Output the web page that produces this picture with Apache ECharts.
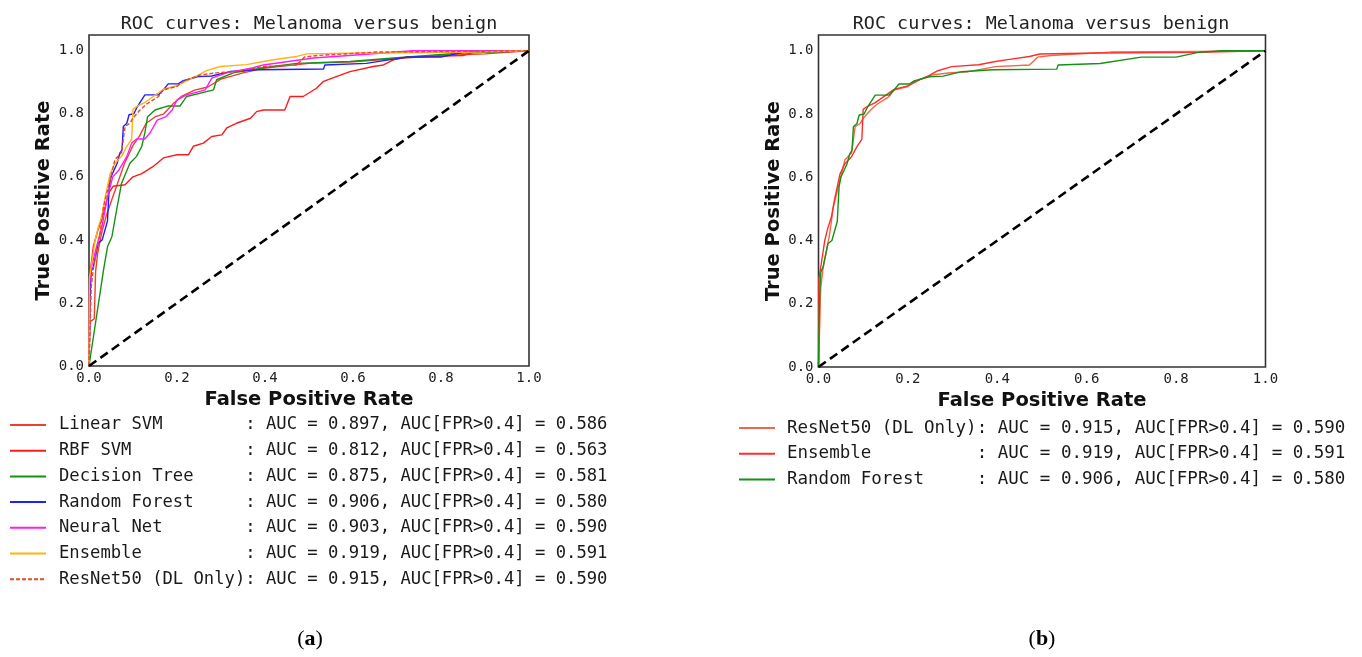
<!DOCTYPE html>
<html>
<head>
<meta charset="utf-8">
<script src="https://cdn.jsdelivr.net/npm/echarts@6/dist/echarts.min.js"></script>
<style>
  html, body { margin: 0; padding: 0; background: #fff; }
  #main { width: 1362px; height: 657px; }
</style>
</head>
<body>
<div id="main"></div>
<script>
// ROC curves: Melanoma versus benign, (a) all models, (b) DL vs ensemble

const diagFpr = [0, 1];
const diagTpr = [0, 1];

// curve points (FPR, TPR)
const linearSvmFpr = [0, 0.002, 0.012, 0.015, 0.02, 0.03, 0.04, 0.05, 0.06, 0.07, 0.08, 0.09, 0.1, 0.115, 0.13, 0.15, 0.17, 0.19, 0.21, 0.24, 0.27, 0.3, 0.35, 0.4, 0.5, 0.6, 0.7, 0.8, 0.9, 1];
const linearSvmTpr = [0, 0.14, 0.15, 0.3, 0.36, 0.43, 0.48, 0.52, 0.56, 0.6, 0.64, 0.67, 0.7, 0.73, 0.77, 0.79, 0.8, 0.83, 0.855, 0.875, 0.885, 0.91, 0.93, 0.945, 0.96, 0.965, 0.975, 0.985, 0.99, 1];

const rbfSvmFpr = [0, 0.003, 0.01, 0.02, 0.03, 0.045, 0.055, 0.082, 0.1, 0.12, 0.146, 0.169, 0.2, 0.226, 0.237, 0.26, 0.279, 0.302, 0.313, 0.335, 0.367, 0.381, 0.396, 0.445, 0.457, 0.487, 0.517, 0.533, 0.562, 0.593, 0.646, 0.669, 0.692, 0.722, 0.85, 0.873, 1];
const rbfSvmTpr = [0, 0.3, 0.38, 0.43, 0.47, 0.55, 0.57, 0.575, 0.6, 0.61, 0.633, 0.66, 0.67, 0.67, 0.697, 0.707, 0.728, 0.733, 0.755, 0.77, 0.786, 0.807, 0.812, 0.812, 0.855, 0.855, 0.881, 0.903, 0.918, 0.934, 0.95, 0.955, 0.971, 0.98, 0.985, 0.995, 1];

const treeFpr = [0, 0.033, 0.042, 0.052, 0.064, 0.074, 0.093, 0.108, 0.12, 0.127, 0.133, 0.15, 0.18, 0.207, 0.222, 0.283, 0.29, 0.328, 0.396, 0.472, 0.593, 0.7, 0.85, 1];
const treeTpr = [0, 0.304, 0.378, 0.41, 0.505, 0.58, 0.643, 0.665, 0.697, 0.74, 0.79, 0.812, 0.825, 0.825, 0.855, 0.876, 0.908, 0.93, 0.946, 0.96, 0.966, 0.978, 0.993, 1];

const forestFpr = [0, 0.002, 0.005, 0.01, 0.021, 0.03, 0.042, 0.046, 0.05, 0.064, 0.07, 0.075, 0.078, 0.086, 0.091, 0.102, 0.11, 0.127, 0.158, 0.169, 0.18, 0.203, 0.214, 0.248, 0.279, 0.32, 0.389, 0.533, 0.536, 0.63, 0.722, 0.8, 0.85, 0.9, 1];
const forestTpr = [0, 0.2, 0.3, 0.315, 0.39, 0.4, 0.46, 0.57, 0.6, 0.643, 0.675, 0.685, 0.76, 0.77, 0.797, 0.8, 0.823, 0.86, 0.86, 0.876, 0.895, 0.895, 0.905, 0.918, 0.92, 0.934, 0.94, 0.942, 0.955, 0.96, 0.98, 0.98, 0.995, 1, 1];

const neuralFpr = [0, 0.001, 0.006, 0.017, 0.029, 0.042, 0.054, 0.067, 0.086, 0.097, 0.108, 0.127, 0.139, 0.155, 0.174, 0.189, 0.2, 0.222, 0.264, 0.279, 0.313, 0.373, 0.396, 0.51, 0.623, 0.735, 1];
const neuralTpr = [0, 0.26, 0.315, 0.378, 0.44, 0.535, 0.6, 0.62, 0.665, 0.707, 0.72, 0.72, 0.74, 0.78, 0.79, 0.812, 0.844, 0.86, 0.876, 0.913, 0.93, 0.946, 0.955, 0.977, 0.988, 1, 1];

const ensembleFpr = [0, 0.001, 0.006, 0.014, 0.021, 0.029, 0.036, 0.048, 0.059, 0.074, 0.086, 0.097, 0.1, 0.108, 0.127, 0.146, 0.169, 0.2, 0.226, 0.245, 0.267, 0.298, 0.358, 0.396, 0.427, 0.472, 0.495, 0.623, 0.85, 1];
const ensembleTpr = [0, 0.28, 0.325, 0.4, 0.44, 0.475, 0.53, 0.61, 0.643, 0.665, 0.697, 0.72, 0.815, 0.823, 0.836, 0.855, 0.878, 0.889, 0.908, 0.92, 0.937, 0.95, 0.956, 0.966, 0.973, 0.982, 0.99, 0.993, 0.995, 1];

const resnetFpr = [0, 0.003, 0.005, 0.01, 0.025, 0.033, 0.048, 0.059, 0.074, 0.082, 0.093, 0.1, 0.116, 0.131, 0.158, 0.169, 0.2, 0.214, 0.252, 0.29, 0.335, 0.396, 0.472, 0.49, 0.52, 0.654, 0.85, 1];
const resnetTpr = [0, 0.145, 0.25, 0.31, 0.42, 0.505, 0.59, 0.655, 0.677, 0.76, 0.77, 0.787, 0.812, 0.831, 0.855, 0.876, 0.887, 0.903, 0.923, 0.93, 0.934, 0.95, 0.955, 0.98, 0.985, 0.996, 0.998, 1];

// legend text
const leftNames = ['Linear SVM', 'RBF SVM', 'Decision Tree', 'Random Forest', 'Neural Net', 'Ensemble', 'ResNet50 (DL Only)'];
const leftAuc = ['0.897', '0.812', '0.875', '0.906', '0.903', '0.919', '0.915'];
const leftAucFpr = ['0.586', '0.563', '0.581', '0.580', '0.590', '0.591', '0.590'];
const rightNames = ['ResNet50 (DL Only)', 'Ensemble', 'Random Forest'];
const rightAuc = ['0.915', '0.919', '0.906'];
const rightAucFpr = ['0.590', '0.591', '0.580'];

const zip = (xs, ys) => xs.map((x, i) => [x, ys[i]]);

const leftCurves = [
  { fpr: linearSvmFpr, tpr: linearSvmTpr, color: '#ee3f28', dash: 'solid' },
  { fpr: rbfSvmFpr, tpr: rbfSvmTpr, color: '#ff1a1a', dash: 'solid' },
  { fpr: treeFpr, tpr: treeTpr, color: '#159215', dash: 'solid' },
  { fpr: forestFpr, tpr: forestTpr, color: '#1f1fff', dash: 'solid' },
  { fpr: neuralFpr, tpr: neuralTpr, color: '#ff1aff', dash: 'solid' },
  { fpr: ensembleFpr, tpr: ensembleTpr, color: '#ffb312', dash: 'solid' },
  { fpr: resnetFpr, tpr: resnetTpr, color: '#e84a2a', dash: [4, 2] }
];
const rightCurves = [
  { fpr: resnetFpr, tpr: resnetTpr, color: '#f2674a' },
  { fpr: ensembleFpr, tpr: ensembleTpr, color: '#ff2e2e' },
  { fpr: forestFpr, tpr: forestTpr, color: '#159215' }
];

function label(name, auc, aucFpr) {
  return name.padEnd(18, ' ') + ': AUC = ' + auc + ', AUC[FPR>0.4] = ' + aucFpr;
}

const labelMap = {};
leftNames.forEach((n, i) => { labelMap['a' + i] = label(n, leftAuc[i], leftAucFpr[i]); });
rightNames.forEach((n, i) => { labelMap['b' + i] = label(n, rightAuc[i], rightAucFpr[i]); });

const mono = 'DejaVu Sans Mono';
const grids = [
  { left: 89, top: 35, width: 440, height: 331 },
  { left: 818.5, top: 35, width: 447, height: 332 }
];

function makeAxes(idx) {
  const x = {
    gridIndex: idx, type: 'value', min: 0, max: 1, interval: 0.2,
    name: 'False Positive Rate', nameLocation: 'middle', nameGap: 21,
    nameTextStyle: { fontFamily: 'DejaVu Sans', fontWeight: 'bold', fontSize: 19.5, color: '#111' },
    axisLine: { show: false }, axisTick: { show: false }, splitLine: { show: false },
    axisLabel: { margin: 5, fontFamily: mono, fontSize: 14, color: '#222', formatter: v => v.toFixed(1) }
  };
  const y = {
    gridIndex: idx, type: 'value', min: 0, max: 1.05, interval: 0.2,
    name: 'True Positive Rate', nameLocation: 'middle', nameGap: 35,
    nameTextStyle: { fontFamily: 'DejaVu Sans', fontWeight: 'bold', fontSize: 19.5, color: '#111' },
    axisLine: { show: false }, axisTick: { show: false }, splitLine: { show: false },
    axisLabel: { margin: 5, fontFamily: mono, fontSize: 14, color: '#222', formatter: v => (v > 1.001 ? '' : v.toFixed(1)) }
  };
  return [x, y];
}

const axesA = makeAxes(0);
const axesB = makeAxes(1);

const series = [];
leftCurves.forEach((c, i) => {
  series.push({
    name: 'a' + i, type: 'line', xAxisIndex: 0, yAxisIndex: 0,
    data: zip(c.fpr, c.tpr), symbol: 'none', color: c.color,
    lineStyle: { width: 1.4, color: c.color, type: c.dash }
  });
});
series.push({
  name: 'diagA', type: 'line', xAxisIndex: 0, yAxisIndex: 0,
  data: zip(diagFpr, diagTpr), symbol: 'none',
  lineStyle: { width: 2.6, color: '#000', type: [9, 5] }
});
rightCurves.forEach((c, i) => {
  series.push({
    name: 'b' + i, type: 'line', xAxisIndex: 1, yAxisIndex: 1,
    data: zip(c.fpr, c.tpr), symbol: 'none', color: c.color,
    lineStyle: { width: 1.4, color: c.color }
  });
});
series.push({
  name: 'diagB', type: 'line', xAxisIndex: 1, yAxisIndex: 1,
  data: zip(diagFpr, diagTpr), symbol: 'none',
  lineStyle: { width: 2.6, color: '#000', type: [9, 5] }
});

const legendTextA = { fontFamily: mono, fontSize: 17.2, color: '#1a1a1a', lineHeight: 20, padding: [0, 0, 0, 8] };
const legendTextB = { fontFamily: mono, fontSize: 17.5, color: '#1a1a1a', lineHeight: 20, padding: [0, 0, 0, 7] };
const titleStyle = { fontFamily: mono, fontSize: 18.4, fontWeight: 'normal', color: '#222' };
const tagStyle = { fontFamily: 'Liberation Serif', fontSize: 22, fontWeight: 'normal', color: '#000',
  rich: { b: { fontFamily: 'Liberation Serif', fontSize: 22, fontWeight: 'bold', color: '#000' } } };

const chart = echarts.init(document.getElementById('main'));
chart.setOption({
  animation: false,
  backgroundColor: '#fff',
  title: [
    { text: 'ROC curves: Melanoma versus benign', left: 304, top: 10, textAlign: 'center', textStyle: titleStyle },
    { text: 'ROC curves: Melanoma versus benign', left: 1036, top: 10, textAlign: 'center', textStyle: titleStyle },
    { text: '({b|a})', left: 305, top: 623, textAlign: 'center', textStyle: tagStyle },
    { text: '({b|b})', left: 1037, top: 623, textAlign: 'center', textStyle: tagStyle }
  ],
  grid: grids.map(g => Object.assign({ show: true, borderColor: '#333', borderWidth: 1.6, backgroundColor: '#fff' }, g)),
  xAxis: [axesA[0], axesB[0]],
  yAxis: [axesA[1], axesB[1]],
  legend: [
    { data: leftNames.map((n, i) => 'a' + i), orient: 'vertical', left: 4, top: 410,
      itemWidth: 36, itemHeight: 12, itemGap: 5.7, selectedMode: false,
      itemStyle: { opacity: 0 },
      formatter: n => labelMap[n], textStyle: legendTextA },
    { data: rightNames.map((n, i) => 'b' + i), orient: 'vertical', left: 733, top: 413,
      itemWidth: 36, itemHeight: 12, itemGap: 5.8, selectedMode: false,
      itemStyle: { opacity: 0 },
      formatter: n => labelMap[n], textStyle: legendTextB }
  ],
  series: series
});
</script>
</body>
</html>
